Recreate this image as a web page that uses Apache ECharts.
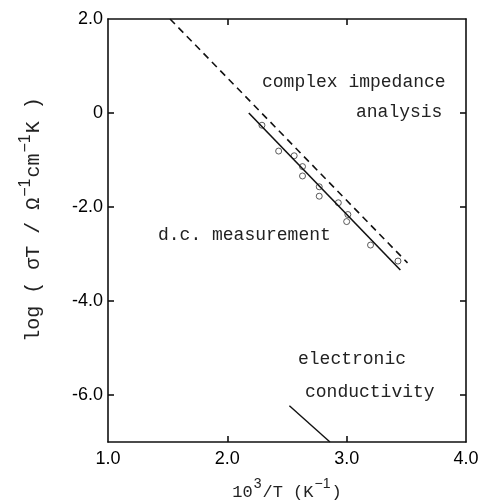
<!DOCTYPE html>
<html>
<head>
<meta charset="utf-8">
<script src="https://cdn.jsdelivr.net/npm/echarts@6/dist/echarts.min.js"></script>
<style>
  html, body { margin: 0; padding: 0; background: #fff; }
  #chart { width: 479px; height: 502px; }
</style>
</head>
<body>
<div id="chart"></div>
<script>
// measured points (d.c. measurement), x = 10^3/T, y = log(sigma T)
var dcX = [2.29, 2.43, 2.56, 2.63, 2.63, 2.77, 2.77, 2.93, 3.01, 3.00, 3.20, 3.43];
var dcY = [-0.26, -0.81, -0.91, -1.14, -1.34, -1.57, -1.77, -1.91, -2.16, -2.31, -2.81, -3.15];

// fitted lines, [x, y] end points
var dcFit = [[2.18, 0.0], [3.45, -3.34]];
var impedanceFit = [[1.52, 2.0], [3.51, -3.19]];
var electronicFit = [[2.52, -6.23], [2.86, -7.0]];

var xTicks = [1, 2, 3, 4];
var yTicks = [2, 0, -2, -4, -6];

var dcPoints = dcX.map(function (x, i) { return [x, dcY[i]]; });

var myChart = echarts.init(document.getElementById('chart'));

var axisLine = {show: true, onZero: false, lineStyle: {color: '#111', width: 1.6}};
var tickStyle = {show: true, inside: true, length: 6, lineStyle: {color: '#111', width: 1.6}};
var labelFont = {color: '#000', fontSize: 18, fontFamily: 'Liberation Sans'};

var option = {
    animation: false,
    backgroundColor: '#fff',
    grid: {left: 108, right: 13, top: 19, bottom: 60, containLabel: false, outerBoundsMode: 'none'},
    xAxis: [
        {
            type: 'value', min: 1, max: 4, interval: 1,
            axisLine: axisLine,
            axisTick: Object.assign({}, tickStyle, {customValues: [2, 3]}),
            splitLine: {show: false},
            axisLabel: Object.assign({}, labelFont, {
                margin: 8, customValues: xTicks,
                formatter: function (v) { return v.toFixed(1); }
            }),
            name: '{n|10}{s|3}{n|/T (K}{s|−1}{n|)}',
            nameLocation: 'middle', nameGap: 35,
            nameTextStyle: {
                rich: {
                    n: {fontFamily: 'Liberation Mono', fontSize: 17, color: '#222', lineHeight: 24, verticalAlign: 'bottom'},
                    s: {fontFamily: 'Liberation Sans', fontSize: 14, color: '#222', lineHeight: 24, verticalAlign: 'top', padding: [0, 1, 10, 1]}
                }
            }
        },
        {
            type: 'value', min: 1, max: 4, interval: 1, position: 'top',
            axisLine: axisLine,
            axisTick: Object.assign({}, tickStyle, {customValues: [2, 3]}),
            axisLabel: {show: false},
            splitLine: {show: false}
        }
    ],
    yAxis: [
        {
            type: 'value', min: -7, max: 2,
            axisLine: axisLine,
            axisTick: Object.assign({}, tickStyle, {customValues: [0, -2, -4, -6]}),
            splitLine: {show: false},
            axisLabel: Object.assign({}, labelFont, {
                margin: 5, customValues: yTicks,
                formatter: function (v) { return v === 0 ? '0' : v.toFixed(1); }
            }),
            name: '{n|log ( σT / Ω}{s|−1}{n|cm}{s|−1}{n|K )}',
            nameLocation: 'middle', nameGap: 64,
            nameTextStyle: {
                padding: [0, 0, 0, 22],
                rich: {
                    n: {fontFamily: 'Liberation Mono', fontSize: 20, color: '#222', lineHeight: 26, verticalAlign: 'bottom'},
                    s: {fontFamily: 'Liberation Sans', fontSize: 16, color: '#222', lineHeight: 26, verticalAlign: 'top', padding: [0, 1, 10, 1]}
                }
            }
        },
        {
            type: 'value', min: -7, max: 2, position: 'right',
            axisLine: axisLine,
            axisTick: Object.assign({}, tickStyle, {customValues: [0, -2, -4, -6]}),
            axisLabel: {show: false},
            splitLine: {show: false}
        }
    ],
    series: [
        {
            type: 'line', data: impedanceFit, symbol: 'none',
            lineStyle: {color: '#111', width: 1.6, type: [7, 5]}
        },
        {
            type: 'line', data: dcFit, symbol: 'none',
            lineStyle: {color: '#111', width: 1.6}
        },
        {
            type: 'line', data: electronicFit, symbol: 'none',
            lineStyle: {color: '#111', width: 1.4}
        },
        {
            type: 'scatter', data: dcPoints, symbol: 'circle', symbolSize: 6,
            itemStyle: {color: '#fff', borderColor: '#333', borderWidth: 1}
        }
    ],
    graphic: [
        {type: 'text', left: 262, top: 73, style: {text: 'complex impedance', font: '18px "Liberation Mono"', fill: '#222'}},
        {type: 'text', left: 356, top: 103, style: {text: 'analysis', font: '18px "Liberation Mono"', fill: '#222'}},
        {type: 'text', left: 158, top: 226, style: {text: 'd.c. measurement', font: '18px "Liberation Mono"', fill: '#222'}},
        {type: 'text', left: 298, top: 350, style: {text: 'electronic', font: '18px "Liberation Mono"', fill: '#222'}},
        {type: 'text', left: 305, top: 383, style: {text: 'conductivity', font: '18px "Liberation Mono"', fill: '#222'}}
    ]
};

myChart.setOption(option, true);
</script>
</body>
</html>
